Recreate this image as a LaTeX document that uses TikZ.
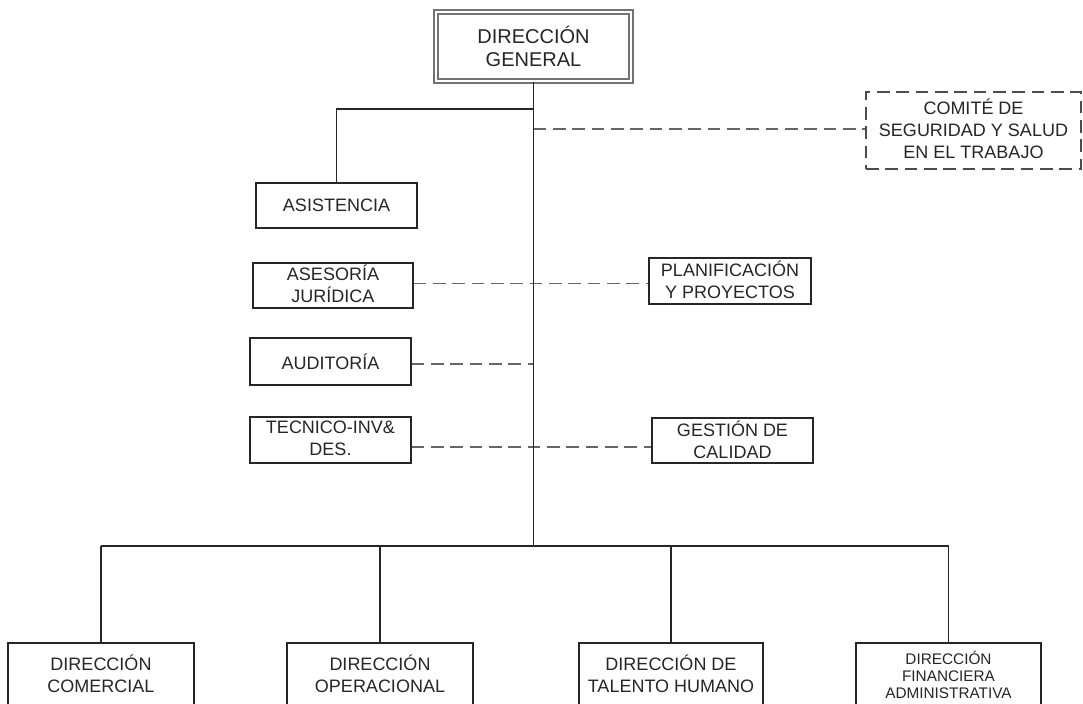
\documentclass[tikz,border=0pt]{standalone}
\usepackage{fontspec}
\setmainfont{Liberation Sans}
\usetikzlibrary{fit}
\begin{document}
\begin{tikzpicture}[x=0.75pt,y=-0.75pt,
  line width=1.2pt,
  box/.style={draw=black!85, inner sep=0pt},
  dbox/.style={box, draw=black!55, double=white, double distance=1.6pt,
    line width=1.2pt},
  cbox/.style={box, draw=black!70, dash pattern=on 9.5pt off 5pt},
  lbl/.style={align=center, text=black!85, inner sep=0pt,
    font=\fontsize{13.5}{16.5}\selectfont},
  biglbl/.style={lbl, font=\fontsize{15}{17.5}\selectfont},
  smalllbl/.style={lbl, font=\fontsize{11.5}{12.6}\selectfont},
  link/.style={draw=black!85},
  dlink/.style={draw=black!60, line width=1.4pt, dash pattern=on 9.5pt off 5pt}
]
\fill[white] (0,0) rectangle (1083,704);
\clip (0,0) rectangle (1083,704);

% top level
\node[dbox, fit={(436,12)(631,81)}] (dg) {};
\node[biglbl] (dgt) at (dg.center) {DIRECCIÓN\\GENERAL};

% staff units
\node[cbox, fit={(866,92)(1081,169)}] (cmt) {};
\node[box, fit={(256,183)(417,228)}] (asis) {};
\node[box, fit={(253,263)(413,308)}] (ases) {};
\node[box, fit={(649,258)(811,304)}] (plan) {};
\node[box, fit={(250,338)(411,385)}] (aud) {};
\node[box, fit={(250,417)(411,463)}] (tec) {};
\node[box, fit={(652,418)(813,463)}] (gest) {};
\node[lbl] (cmtt) at ([yshift=1pt]cmt.center) {COMITÉ DE\\SEGURIDAD Y SALUD\\EN EL TRABAJO};
\node[lbl] (asist) at (asis.center) {ASISTENCIA};
\node[lbl] (asest) at ([yshift=1pt]ases.center) {ASESORÍA\\JURÍDICA};
\node[lbl] (plant) at ([yshift=1pt]plan.center) {PLANIFICACIÓN\\Y PROYECTOS};
\node[lbl] (audt) at (aud.center) {AUDITORÍA};
\node[lbl] (tect) at ([yshift=1.5pt]tec.center) {TECNICO-INV\&\\DES.};
\node[lbl] (gestt) at ([yshift=0.5pt]gest.center) {GESTIÓN DE\\CALIDAD};

% line directorates (boxes run past the lower edge)
\node[box, fit={(8,643)(194,760)}] (com) {};
\node[box, fit={(287,643)(473,760)}] (ope) {};
\node[box, fit={(579,643)(763,760)}] (tal) {};
\node[box, fit={(856,643)(1041,760)}] (fin) {};
\node[lbl] (comt) at (101,674) {DIRECCIÓN\\COMERCIAL};
\node[lbl] (opet) at (380,674) {DIRECCIÓN\\OPERACIONAL};
\node[lbl] (talt) at (671,674) {DIRECCIÓN DE\\TALENTO HUMANO};
\node[smalllbl] (fint) at (948.5,675) {DIRECCIÓN\\FINANCIERA\\ADMINISTRATIVA};

% junctions on the trunk
\coordinate (jasis) at (533.5,109);
\coordinate (jcmt) at (533.5,129);
\coordinate (bus) at (533.5,546);

% dashed advisory links
\draw[dlink] (jcmt) -- (jcmt -| cmt.west);
\draw[dlink] ([yshift=1.5pt]ases.east) -- ([yshift=1.5pt]ases.east -| plan.west);
\draw[dlink] ([yshift=-2pt]aud.east) -- ([yshift=-2pt]aud.east -| bus);
\draw[dlink] ([yshift=-5pt]tec.east) -- ([yshift=-5pt]tec.east -| gest.west);

% solid reporting lines
\draw[link] (dg.south) -- (bus);
\draw[link] (jasis) -| (asis.north);
\draw[link] (com.north |- bus) -- (fin.north |- bus);
\foreach \n in {com,ope,tal,fin}
  \draw[link] (\n.north |- bus) -- (\n.north);
\end{tikzpicture}
\end{document}
